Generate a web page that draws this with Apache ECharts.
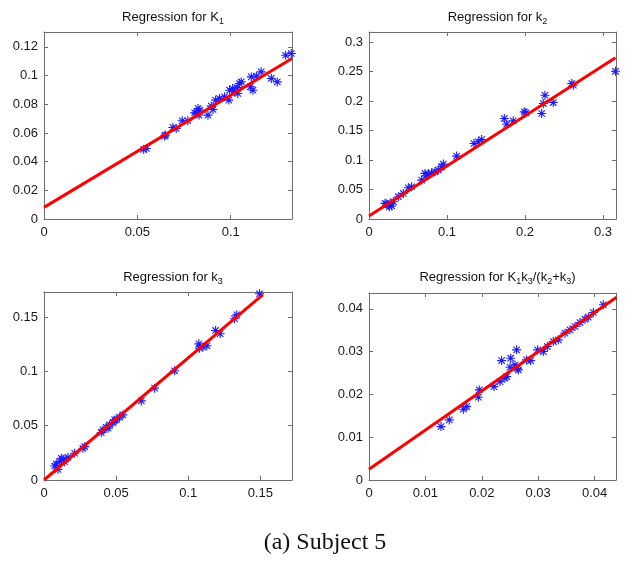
<!DOCTYPE html>
<html>
<head>
<meta charset="utf-8">
<script src="https://cdn.jsdelivr.net/npm/echarts@6/dist/echarts.min.js"></script>
<style>html,body{margin:0;padding:0;background:#fff;}#c{width:633px;height:563px;}</style>
</head>
<body>
<div id="c"></div>
<script>
// ---- Data ----
const k1X = [0.0548,0.0534,0.0646,0.0650,0.0690,0.0708,0.0740,0.0770,0.0807,0.0833,0.0825,0.0815,0.0830,0.0878,0.0896,0.0905,0.0919,0.0940,0.0967,0.0990,0.0994,0.1010,0.1020,0.1033,0.1047,0.1038,0.1056,0.1105,0.1119,0.1110,0.1137,0.1163,0.1217,0.1249,0.1294,0.1324];
const k1Y = [0.0492,0.0485,0.0578,0.0585,0.0638,0.0631,0.0685,0.0685,0.0740,0.0759,0.0770,0.0735,0.0725,0.0724,0.0787,0.0764,0.0829,0.0840,0.0852,0.0829,0.0898,0.0910,0.0887,0.0917,0.0945,0.0875,0.0956,0.0922,0.0898,0.0991,0.0996,0.1026,0.0980,0.0956,0.1142,0.1154];
const k1FitX = [0, 0.1328];
const k1FitY = [0.0081, 0.1119];

const k2X = [0.3160,0.2600,0.2620,0.2256,0.2235,0.2214,0.2363,0.1991,0.2010,0.1850,0.1735,0.1765,0.1444,0.1402,0.1346,0.1124,0.0953,0.0930,0.0889,0.0846,0.0803,0.0761,0.0731,0.0718,0.0675,0.0547,0.0504,0.0440,0.0376,0.0312,0.0269,0.0248,0.0226,0.0291,0.0205,0.0261];
const k2Y = [0.2504,0.2296,0.2268,0.2098,0.1957,0.1788,0.1974,0.1816,0.1800,0.1664,0.1703,0.1607,0.1348,0.1309,0.1280,0.1066,0.0931,0.0885,0.0829,0.0801,0.0784,0.0761,0.0728,0.0773,0.0660,0.0547,0.0530,0.0434,0.0378,0.0293,0.0254,0.0237,0.0254,0.0220,0.0265,0.0209];
const k2FitX = [0, 0.316];
const k2FitY = [0.0051, 0.2735];

const k3X = [0.1495,0.1337,0.1321,0.1190,0.1222,0.1074,0.1102,0.1130,0.1079,0.0906,0.0767,0.0675,0.0547,0.0524,0.0501,0.0478,0.0455,0.0432,0.0409,0.0397,0.0444,0.0490,0.0282,0.0270,0.0213,0.0166,0.0132,0.0120,0.0109,0.0085,0.0097,0.0143,0.0074];
const k3Y = [0.1714,0.1520,0.1484,0.1376,0.1346,0.1253,0.1223,0.1235,0.1213,0.1005,0.0845,0.0728,0.0599,0.0578,0.0553,0.0528,0.0507,0.0485,0.0461,0.0436,0.0476,0.0553,0.0307,0.0292,0.0246,0.0209,0.0190,0.0200,0.0169,0.0147,0.0098,0.0169,0.0129];
const k3FitX = [0, 0.1518];
const k3FitY = [0, 0.1705];

const kiX = [0.01277,0.01424,0.01673,0.01732,0.01939,0.01956,0.02216,0.02352,0.02323,0.02411,0.02441,0.02500,0.02512,0.02618,0.02589,0.02648,0.02630,0.02795,0.02866,0.02990,0.03091,0.03162,0.03268,0.03357,0.03475,0.03564,0.03652,0.03741,0.03830,0.03889,0.03978,0.04155,0.04391];
const kiY = [0.01248,0.01404,0.01653,0.01715,0.01934,0.02105,0.02183,0.02791,0.02300,0.02378,0.02417,0.02635,0.02846,0.03041,0.02690,0.02573,0.02610,0.02807,0.02791,0.03041,0.03002,0.03119,0.03236,0.03275,0.03431,0.03509,0.03587,0.03680,0.03758,0.03805,0.03914,0.04094,0.04250];
const kiFitX = [0, 0.0439];
const kiFitY = [0.0025, 0.0427];

// axis extents and tick steps per panel
const xMax = [0.1328, 0.3167, 0.172, 0.0438];
const yMax = [0.1304, 0.317, 0.173, 0.0437];
const xStep = [0.05, 0.1, 0.05, 0.01];
const yStep = [0.02, 0.05, 0.05, 0.01];

const titles = [
  'Regression for K{s|1}',
  'Regression for k{s|2}',
  'Regression for k{s|3}',
  'Regression for K{s|1}k{s|3}/(k{s|2}+k{s|3})'
];
const caption = '(a) Subject 5';

// ---- Layout ----
const grids = [
  {left: 44, top: 32, width: 248, height: 187},
  {left: 369, top: 32, width: 247, height: 187},
  {left: 44, top: 292, width: 248, height: 188},
  {left: 369, top: 293, width: 247, height: 187}
];
const titleY = [4, 4, 264, 264];

const axisColor = '#6e6e6e';
const star = 'path://M7,0L9,0L9,16L7,16Z M0,7L16,7L16,9L0,9Z M3,1.6L14.4,13L13,14.4L1.6,3Z M13,1.6L14.4,3L3,14.4L1.6,13Z';

const fmt = v => {
  if (Math.abs(v) < 1e-12) return '0';
  return String(parseFloat(v.toFixed(4)));
};

const xAxes = [], yAxes = [], series = [], titleArr = [];
const scat = [[k1X,k1Y],[k2X,k2Y],[k3X,k3Y],[kiX,kiY]];
const fits = [[k1FitX,k1FitY],[k2FitX,k2FitY],[k3FitX,k3FitY],[kiFitX,kiFitY]];

for (let i = 0; i < 4; i++) {
  const base = {
    type: 'value', gridIndex: i, min: 0,
    splitLine: {show: false},
    axisLine: {show: true, onZero: false, lineStyle: {color: axisColor, width: 1}},
    axisTick: {show: true, inside: true, length: 4, lineStyle: {color: axisColor}},
  };
  const lab = {show: true, color: '#1a1a1a', fontFamily: 'Liberation Sans, Arial, sans-serif', fontSize: 13, formatter: fmt, showMaxLabel: false};
  xAxes.push(Object.assign({}, base, {position: 'bottom', max: xMax[i], interval: xStep[i], axisLabel: Object.assign({}, lab, {margin: 7})}));
  xAxes.push(Object.assign({}, base, {position: 'top', max: xMax[i], interval: xStep[i], axisLabel: {show: false}}));
  yAxes.push(Object.assign({}, base, {position: 'left', max: yMax[i], interval: yStep[i], axisLabel: Object.assign({}, lab, {margin: 6})}));
  yAxes.push(Object.assign({}, base, {position: 'right', max: yMax[i], interval: yStep[i], axisLabel: {show: false}}));

  const pts = scat[i][0].map((x, j) => [x, scat[i][1][j]]);
  const fit = fits[i][0].map((x, j) => [x, fits[i][1][j]]);
  series.push({
    type: 'scatter', xAxisIndex: 2*i, yAxisIndex: 2*i, data: pts,
    symbol: star, symbolSize: 9,
    itemStyle: {color: '#1a1aff', opacity: 1},
    silent: true, z: 2
  });
  series.push({
    type: 'line', xAxisIndex: 2*i, yAxisIndex: 2*i, data: fit,
    symbol: 'none', lineStyle: {color: '#ff0000', width: 3},
    silent: true, z: 3
  });
  const g = grids[i];
  titleArr.push({
    text: titles[i],
    left: g.left + g.width / 2, top: titleY[i], textAlign: 'center',
    textStyle: {
      fontSize: 13, fontWeight: 'normal', color: '#111',
      fontFamily: 'Liberation Sans, Arial, sans-serif',
      rich: { s: {fontSize: 9, fontFamily: 'Liberation Sans, Arial, sans-serif', color: '#111', padding: [8, 0, 0, 0]} }
    }
  });
}
titleArr.push({
  text: caption, left: 320, top: 526, textAlign: 'center',
  textStyle: {fontSize: 24, fontWeight: 'normal', color: '#111', fontFamily: 'Liberation Serif, DejaVu Serif, serif'}
});

const chart = echarts.init(document.getElementById('c'), null, {renderer: 'canvas'});
chart.setOption({
  animation: false,
  backgroundColor: '#fff',
  title: titleArr,
  grid: grids.map(g => Object.assign({containLabel: false}, g)),
  xAxis: xAxes,
  yAxis: yAxes,
  series: series
});
</script>
</body>
</html>
